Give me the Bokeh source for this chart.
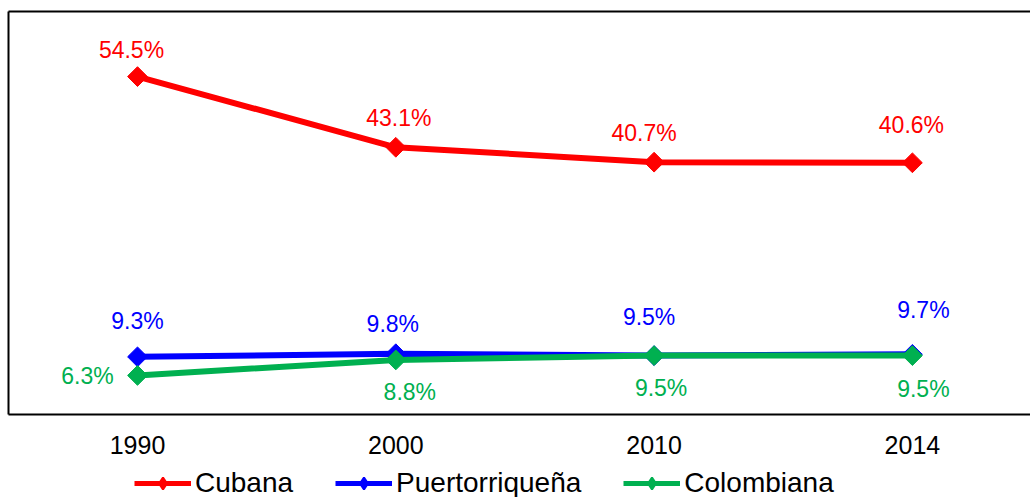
import math
from bokeh.plotting import figure
from bokeh.layouts import column
from bokeh.models import Range1d, FixedTicker, LinearAxis, Legend, LegendItem, ColumnDataSource
from bokeh.core.properties import value
from bokeh.embed import file_html
from bokeh.resources import INLINE

# ---- data ----
years = ["1990", "2000", "2010", "2014"]
cubana = [54.5, 43.1, 40.7, 40.6]
puertorriquena = [9.3, 9.8, 9.5, 9.7]
colombiana = [6.3, 8.8, 9.5, 9.5]
series_names = ["Cubana", "Puertorriqueña", "Colombiana"]

# ---- style ----
colors = ["#FF0000", "#0000FF", "#00B050"]
# label offsets in screen px (dx right, dy up)
label_dx = [[-6, 3, -10, -1], [0, -3, -5, 11], [-50, 14, 7, 11]]
label_dy = [[27, 29, 29, 38], [36, 30, 39, 44], [-1, -32, -32, -33]]
FONT = "Liberation Sans"

xs = list(range(len(years)))
frame_left = 8
step = 258.3
x0 = -(137 - frame_left) / step
x1 = x0 + (1030 - frame_left) / step

p = figure(width=1030, height=462, output_backend="svg", toolbar_location=None,
           x_range=Range1d(x0, x1), y_range=Range1d(0, 65),
           min_border_left=8, min_border_right=0, min_border_top=11, min_border_bottom=48)
p.grid.visible = False
p.outline_line_color = None
p.background_fill_color = "white"
p.border_fill_color = "white"

# x axis
xa = p.xaxis[0]
xa.ticker = FixedTicker(ticks=xs, minor_ticks=[])
xa.major_label_overrides = {i: y for i, y in enumerate(years)}
xa.major_tick_line_color = None
xa.major_tick_out = 0
xa.major_tick_in = 0
xa.minor_tick_out = 0
xa.minor_tick_in = 0
xa.axis_line_width = 2
xa.axis_line_color = "black"
xa.major_label_standoff = 21
xa.major_label_text_font = FONT
xa.major_label_text_font_size = "25px"
xa.major_label_text_color = "black"

# y axis (just the left border)
ya = p.yaxis[0]
ya.ticker = FixedTicker(ticks=[], minor_ticks=[])
ya.major_tick_out = 0
ya.major_tick_in = 0
ya.minor_tick_out = 0
ya.minor_tick_in = 0
ya.axis_line_width = 2
ya.axis_line_color = "black"
ya.major_label_standoff = 0

# top border
ta = LinearAxis(ticker=FixedTicker(ticks=[], minor_ticks=[]), major_tick_out=0, major_tick_in=0,
                minor_tick_out=0, minor_tick_in=0, axis_line_width=2, axis_line_color="black",
                major_label_standoff=0)
p.add_layout(ta, "above")

# legend strip (its renderers share the data but sit outside its visible ranges)
p2 = figure(width=1030, height=35, output_backend="svg", toolbar_location=None,
            x_range=Range1d(100, 101), y_range=Range1d(1000, 1001),
            x_axis_location=None, y_axis_location=None,
            min_border_left=0, min_border_right=0, min_border_top=0, min_border_bottom=0)
p2.grid.visible = False
p2.outline_line_color = None
p2.border_fill_color = "white"

items = []
for k, (name, vals) in enumerate(zip(series_names, [cubana, puertorriquena, colombiana])):
    src = ColumnDataSource(dict(x=xs, y=vals, t=[f"{v:.1f}%" for v in vals],
                                dx=label_dx[k], dy=[-d for d in label_dy[k]]))
    p.line("x", "y", source=src, line_color=colors[k], line_width=6)
    p.scatter("x", "y", source=src, marker="square", angle=math.pi / 4, size=14,
              fill_color=colors[k], line_color=colors[k])
    p.text("x", "y", text="t", source=src, x_offset="dx", y_offset="dy",
           text_align="center", text_baseline="middle", text_color=colors[k],
           text_font=value(FONT), text_font_size="23px")
    ln2 = p2.line("x", "y", source=src, line_color=colors[k], line_width=5)
    sc2 = p2.scatter("x", "y", source=src, marker="diamond", size=9,
                     fill_color=colors[k], line_color=colors[k], line_width=2)
    items.append(LegendItem(label=name, renderers=[ln2, sc2]))

legend = Legend(items=items, orientation="horizontal", location=(126, -2),
                label_text_font=FONT, label_text_font_size="28px", label_text_color="black",
                glyph_width=57, glyph_height=30, label_standoff=4, spacing=42,
                padding=0, margin=0, border_line_color=None, background_fill_alpha=0)
p2.add_layout(legend, "center")

layout = column(p, p2, spacing=0)
open("out.html", "w").write(file_html(layout, INLINE))
